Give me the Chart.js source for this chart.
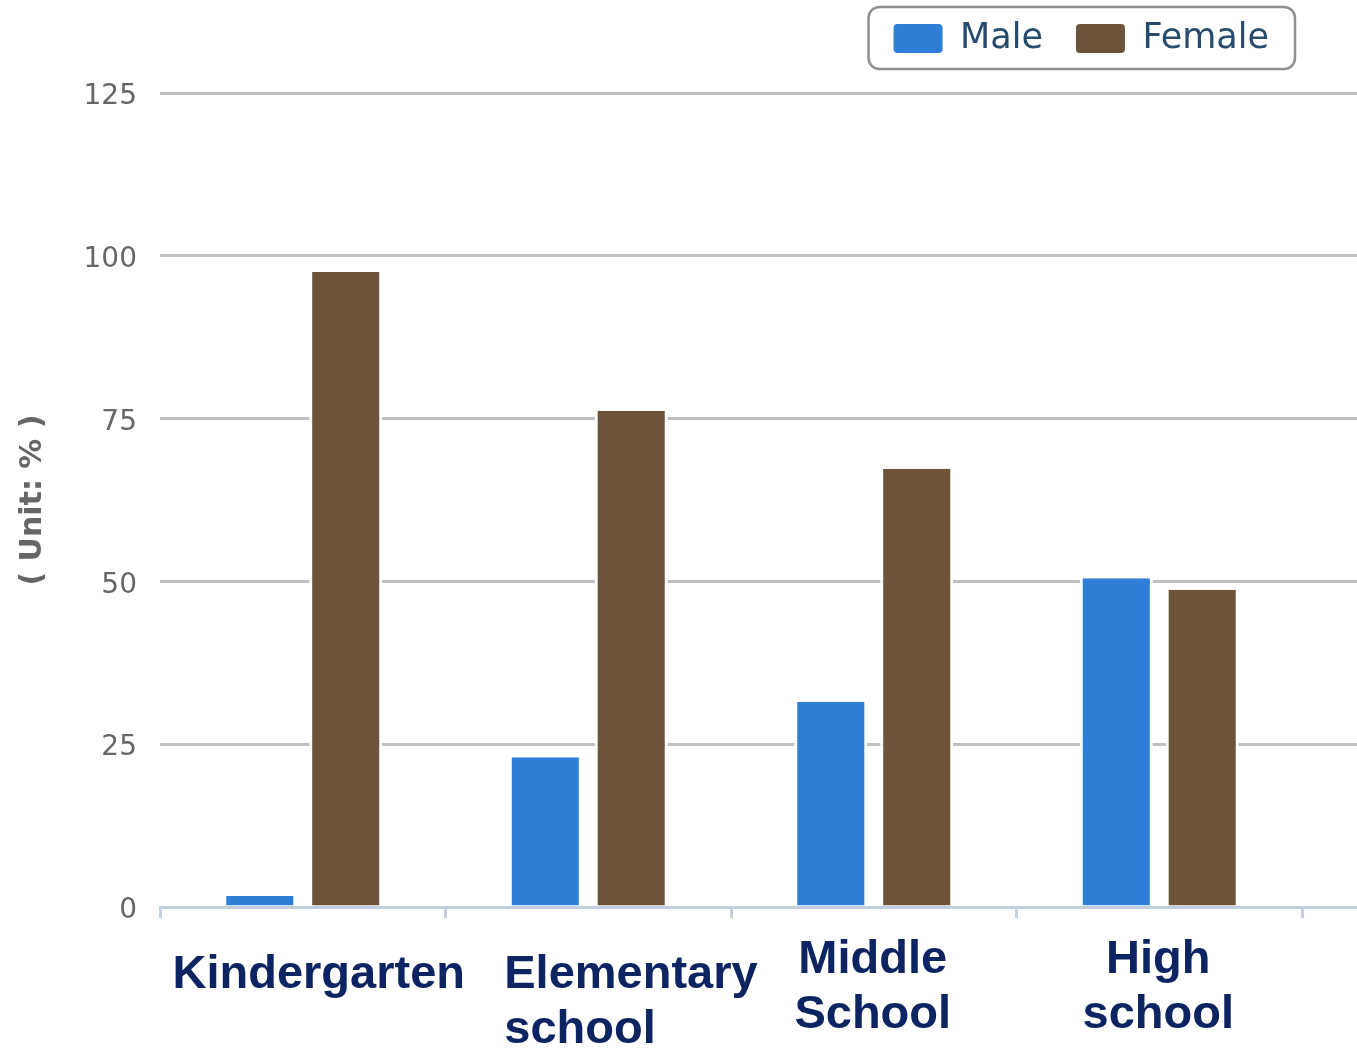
<!DOCTYPE html>
<html>
<head>
<meta charset="utf-8">
<script src="https://cdn.jsdelivr.net/npm/chart.js@4/dist/chart.umd.min.js"></script>
<style>
html,body{margin:0;padding:0;background:#ffffff;}
#wrap{width:1357px;height:1051px;position:relative;}
</style>
</head>
<body>
<div id="wrap"><canvas id="c"></canvas></div>
<script>
// ---- data ----
const categories = [["Kindergarten"], ["Elementary", "school"], ["Middle", "School"], ["High", "school"]];
const seriesNames = ["Male", "Female"];
const maleValues = [1.7, 23.0, 31.5, 50.5];
const femaleValues = [97.5, 76.2, 67.3, 48.7];
const yTickValues = [0, 25, 50, 75, 100, 125];
const yAxisTitle = "( Unit: % )";

// ---- styles ----
const MALE = '#2f7ed8', FEMALE = '#6d5439', GRID = '#c0c0c0', AXIS = '#c0d0e0', LABEL = '#0d2463';
const catFont = {family: "'Liberation Sans', Arial, sans-serif", size: 47, weight: 'bold', lineHeight: 55 / 47};

function onlyIdx(idxs) {
  return function (v, i) { return idxs.includes(i) ? categories[i] : ''; };
}
function setYTicks(s) { s.ticks = yTickValues.map(v => ({value: v})); }

const legendFrame = {
  id: 'legendFrame',
  afterInit(chart) {
    const lg = chart.legend;
    const f = lg.fit;
    lg.fit = function () { f.apply(this, arguments); this.height += 27; };
  },
  afterDraw(chart) {
    const boxes = chart.legend && chart.legend.legendHitBoxes;
    if (!boxes || !boxes.length) return;
    let l = Infinity, r = -Infinity, t = Infinity, b = -Infinity;
    boxes.forEach(h => {
      l = Math.min(l, h.left); r = Math.max(r, h.left + h.width);
      t = Math.min(t, h.top); b = Math.max(b, h.top + h.height);
    });
    const ctx = chart.ctx;
    ctx.save();
    ctx.strokeStyle = '#909090';
    ctx.lineWidth = 2.5;
    ctx.beginPath();
    const x = l - 25, y = t - 14, w = (r - l) + 51, hgt = (b - t) + 27;
    if (ctx.roundRect) ctx.roundRect(x, y, w, hgt, 11); else ctx.rect(x, y, w, hgt);
    ctx.stroke();
    ctx.restore();
  }
};

const labelAxisBase = (idxs, pad, offset, align) => ({
  type: 'category', axis: 'x', position: {y: 0}, offset: true,
  grid: {display: false, drawTicks: false}, border: {display: false},
  ticks: {callback: onlyIdx(idxs), autoSkip: false, maxRotation: 0, minRotation: 0,
          font: catFont, color: LABEL, padding: pad, labelOffset: offset, align: align},
  afterFit: s => { s.height = 0; }
});

new Chart(document.getElementById('c'), {
  type: 'bar',
  data: {
    labels: categories,
    datasets: [
      {label: seriesNames[0], data: maleValues, backgroundColor: MALE, borderColor: '#ffffff',
       borderWidth: {left: 3, right: 3, top: 0, bottom: 0},
       categoryPercentage: 0.602, barPercentage: 0.85, xAxisID: 'x', yAxisID: 'y'},
      {label: seriesNames[1], data: femaleValues, backgroundColor: FEMALE, borderColor: '#ffffff',
       borderWidth: {left: 3, right: 3, top: 0, bottom: 0},
       categoryPercentage: 0.602, barPercentage: 0.85, xAxisID: 'x', yAxisID: 'y'}
    ]
  },
  options: {
    responsive: true,
    maintainAspectRatio: false,
    animation: false,
    devicePixelRatio: 1,
    layout: {padding: {top: -12, left: 0, right: 0, bottom: 0}},
    plugins: {
      tooltip: {enabled: false},
      legend: {
        display: true, position: 'top', align: 'end', fullSize: false,
        labels: {
          boxWidth: 49, boxHeight: 29, padding: 33, color: '#274b6d',
          font: {family: "'DejaVu Sans', sans-serif", size: 35},
          useBorderRadius: true, borderRadius: 4,
          generateLabels: (chart) => Chart.defaults.plugins.legend.labels.generateLabels(chart)
            .map(it => Object.assign(it, {lineWidth: 0, strokeStyle: 'rgba(0,0,0,0)'}))
        }
      }
    },
    scales: {
      x: {
        type: 'category', position: 'bottom', offset: true,
        grid: {display: true, drawOnChartArea: false, drawTicks: true, tickLength: 11,
               color: AXIS, lineWidth: 3, offset: true},
        border: {display: true, color: AXIS, width: 3, z: 1},
        ticks: {callback: onlyIdx([0]), autoSkip: false, maxRotation: 0, minRotation: 0,
                font: catFont, color: LABEL, padding: 30, labelOffset: 16},
        afterFit: s => { s.height = 144; }
      },
      xE: labelAxisBase([1], 41, -84, 'start'),
      xMH: labelAxisBase([2, 3], 26, -1, 'center'),
      y: {
        position: 'left', min: yTickValues[0], max: yTickValues[yTickValues.length - 1],
        afterBuildTicks: setYTicks,
        ticks: {font: {family: "'DejaVu Sans', sans-serif", size: 28}, color: '#666666', padding: 23, labelOffset: 4},
        grid: {color: GRID, lineWidth: 3, drawTicks: false},
        border: {display: false},
        title: {display: true, text: yAxisTitle, color: '#666666',
                font: {family: "'DejaVu Sans', sans-serif", size: 30, weight: 'bold'},
                padding: {top: 15, bottom: 0}},
        afterFit: s => { s.width = 160; }
      },
      y2: {
        position: 'right', min: yTickValues[0], max: yTickValues[yTickValues.length - 1],
        afterBuildTicks: setYTicks,
        ticks: {display: false},
        grid: {drawOnChartArea: false, drawTicks: true, tickLength: 55, lineWidth: 3,
               color: c => (c.tick && c.tick.value === 0) ? AXIS : GRID},
        border: {display: false},
        afterFit: s => { s.width = 55; }
      }
    }
  },
  plugins: [legendFrame]
});
</script>
</body>
</html>
